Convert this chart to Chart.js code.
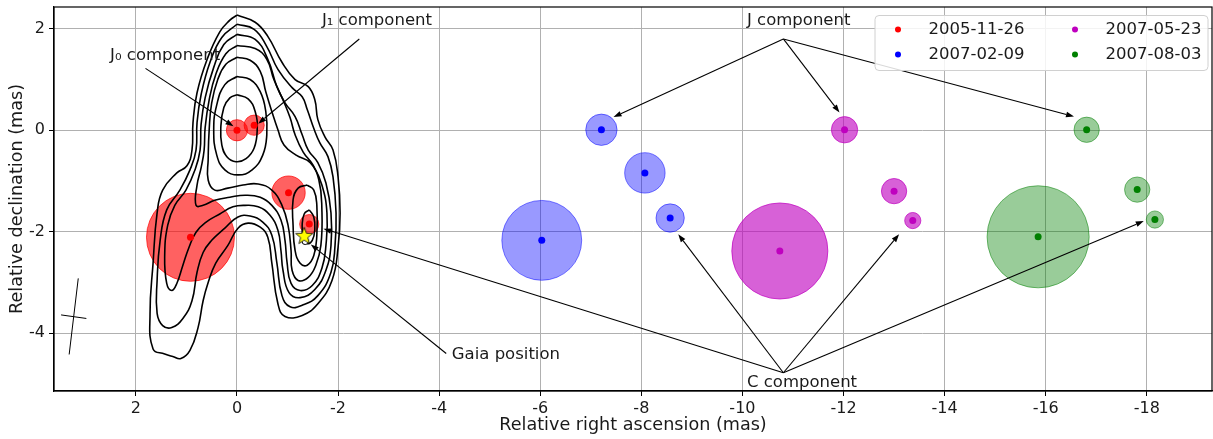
<!DOCTYPE html>
<html>
<head>
<meta charset="utf-8">
<script src="https://cdn.jsdelivr.net/npm/chart.js@4.4.0/dist/chart.umd.min.js"></script>
<style>
  html, body { margin: 0; padding: 0; background: #fff; }
  #wrap { width: 1213px; height: 439px; }
</style>
</head>
<body>
<div id="wrap"><canvas id="vlbiChart" width="1213" height="439"></canvas></div>
<script>
// epochs of the VLBI maps
const epochs = ["2005-11-26", "2007-02-09", "2007-05-23", "2007-08-03"];

// component positions (mas) and sizes (mas) per epoch
const ra_20051126 = [0.00, -0.34, -1.02, -1.43, 0.92];
const dec_20051126 = [0.00, 0.10, -1.23, -1.85, -2.11];
const size_20051126 = [0.21, 0.20, 0.33, 0.19, 0.87];

const ra_20070209 = [-7.21, -8.07, -8.57, -6.03];
const dec_20070209 = [0.01, -0.84, -1.73, -2.17];
const size_20070209 = [0.31, 0.40, 0.28, 0.79];

const ra_20070523 = [-12.02, -10.74, -13.00, -13.37];
const dec_20070523 = [0.01, -2.38, -1.20, -1.78];
const size_20070523 = [0.26, 0.95, 0.25, 0.16];

const ra_20070803 = [-16.81, -17.81, -18.16, -15.85];
const dec_20070803 = [0.01, -1.17, -1.76, -2.10];
const size_20070803 = [0.25, 0.25, 0.17, 1.01];

// Gaia position and its error marker
const gaiaRa = [-1.33];
const gaiaDec = [-2.08];
const gaiaErrRa = [-1.35];
const gaiaErrDec = [-2.19];

// tick labels
const xTicks = [2, 0, -2, -4, -6, -8, -10, -12, -14, -16, -18];
const yTicks = [-4, -2, 0, 2];

// contour levels of the 2005 map, [RA, Dec] in mas (outermost first)
const contour1 = [[0.00,2.27],[-0.36,2.13],[-0.61,1.85],[-0.89,1.34],[-1.15,1.00],[-1.41,0.86],[-1.54,0.60],[-1.60,0.21],[-1.74,-0.13],[-1.90,-0.39],[-2.00,-0.92],[-2.04,-1.63],[-2.00,-2.31],[-1.88,-2.96],[-1.60,-3.42],[-1.29,-3.65],[-0.95,-3.67],[-0.81,-3.42],[-0.69,-2.62],[-0.61,-2.11],[-0.46,-1.91],[-0.22,-1.83],[-0.02,-1.93],[0.18,-2.27],[0.42,-2.62],[0.57,-3.00],[0.67,-3.36],[0.77,-3.89],[0.93,-4.34],[1.11,-4.50],[1.27,-4.46],[1.43,-4.41],[1.66,-4.31],[1.72,-3.61],[1.66,-2.62],[1.58,-1.63],[1.47,-1.18],[1.19,-0.84],[0.99,-0.70],[0.89,-0.39],[0.87,0.15],[0.79,0.74],[0.59,1.40],[0.34,1.94],[0.14,2.17]];
const contour2 = [[0.00,2.09],[-0.34,1.99],[-0.59,1.65],[-0.81,1.20],[-1.09,0.84],[-1.29,0.66],[-1.39,0.41],[-1.53,0.01],[-1.64,-0.25],[-1.80,-0.52],[-1.90,-0.92],[-1.96,-1.63],[-1.94,-2.27],[-1.86,-2.80],[-1.60,-3.26],[-1.29,-3.45],[-1.05,-3.48],[-0.89,-3.26],[-0.79,-2.62],[-0.69,-2.07],[-0.51,-1.81],[-0.26,-1.69],[-0.02,-1.71],[0.24,-1.93],[0.50,-2.17],[0.67,-2.41],[0.79,-2.80],[0.89,-3.36],[1.07,-3.71],[1.29,-3.89],[1.47,-3.85],[1.58,-3.61],[1.58,-2.96],[1.52,-2.17],[1.39,-1.57],[1.13,-1.18],[0.93,-0.78],[0.81,-0.39],[0.79,0.15],[0.71,0.70],[0.53,1.35],[0.30,1.83]];
const contour3 = [[0.00,1.89],[-0.36,1.79],[-0.61,1.40],[-0.79,0.86],[-0.95,0.54],[-1.15,0.27],[-1.29,-0.09],[-1.41,-0.39],[-1.60,-0.64],[-1.76,-1.04],[-1.86,-1.63],[-1.86,-2.27],[-1.76,-2.76],[-1.54,-3.14],[-1.25,-3.30],[-1.03,-3.20],[-0.91,-2.76],[-0.87,-2.37],[-0.81,-1.97],[-0.65,-1.67],[-0.42,-1.51],[-0.16,-1.48],[0.08,-1.51],[0.34,-1.65],[0.61,-1.81],[0.81,-2.01],[0.95,-2.31],[1.07,-2.66],[1.19,-3.02],[1.29,-3.16],[1.39,-3.02],[1.43,-2.47],[1.37,-1.87],[1.23,-1.48],[1.01,-1.18],[0.83,-0.78],[0.73,-0.39],[0.71,0.11],[0.63,0.64],[0.46,1.24],[0.26,1.69]];
const contour4 = [[0.00,1.67],[-0.36,1.61],[-0.59,1.40],[-0.73,1.00],[-0.91,0.60],[-1.05,0.25],[-1.15,-0.09],[-1.31,-0.43],[-1.50,-0.68],[-1.68,-1.08],[-1.78,-1.63],[-1.76,-2.27],[-1.68,-2.72],[-1.49,-3.06],[-1.25,-3.16],[-1.07,-3.02],[-0.99,-2.60],[-0.95,-2.17],[-0.87,-1.77],[-0.69,-1.48],[-0.46,-1.32],[-0.16,-1.28],[0.14,-1.32],[0.44,-1.38],[0.67,-1.48],[0.81,-1.48],[0.79,-1.08],[0.71,-0.74],[0.65,-0.39],[0.63,0.05],[0.55,0.60],[0.42,1.10],[0.22,1.51]];
const contour5 = [[0.00,1.44],[-0.26,1.38],[-0.46,1.16],[-0.57,0.76],[-0.69,0.37],[-0.81,0.01],[-0.93,-0.29],[-1.17,-0.49],[-1.45,-0.64],[-1.62,-0.98],[-1.68,-1.57],[-1.66,-2.27],[-1.56,-2.66],[-1.41,-2.90],[-1.21,-2.96],[-1.09,-2.76],[-1.07,-2.37],[-1.01,-1.87],[-0.89,-1.48],[-0.69,-1.18],[-0.42,-1.06],[-0.12,-1.08],[0.18,-1.14],[0.44,-1.18],[0.57,-0.98],[0.57,-0.58],[0.55,0.01],[0.50,0.54],[0.38,1.00],[0.22,1.30]];
const contour6 = [[-1.39,-1.08],[-1.52,-1.18],[-1.58,-1.48],[-1.58,-2.07],[-1.52,-2.47],[-1.39,-2.66],[-1.25,-2.62],[-1.15,-2.37],[-1.11,-1.87],[-1.11,-1.37],[-1.21,-1.14]];
const contour7 = [[-1.43,-1.57],[-1.52,-1.71],[-1.54,-1.95],[-1.49,-2.17],[-1.39,-2.23],[-1.31,-2.11],[-1.29,-1.87],[-1.33,-1.65]];
const contour8 = [[0.00,1.06],[-0.26,1.00],[-0.46,0.76],[-0.57,0.37],[-0.59,-0.09],[-0.51,-0.49],[-0.30,-0.78],[-0.02,-0.88],[0.24,-0.78],[0.40,-0.49],[0.46,0.01],[0.40,0.50],[0.24,0.90]];
const contour9 = [[0.00,0.70],[-0.22,0.62],[-0.36,0.37],[-0.40,0.01],[-0.34,-0.35],[-0.18,-0.56],[0.02,-0.62],[0.20,-0.52],[0.30,-0.29],[0.32,0.05],[0.26,0.45],[0.14,0.64]];

// restoring beam drawn in the corner, [RA, Dec] ends
const beamMajor = [[3.14,-2.92],[3.32,-4.42]];
const beamMinor = [[3.48,-3.64],[2.98,-3.71]];

// annotations (data coordinates)
const noteText = ["J\u2080 component", "J\u2081 component", "J component", "Gaia position", "C component"];
const noteRa = [2.51, -1.68, -10.09, -4.25, -10.09];
const noteDec = [1.46, 2.15, 2.15, -4.43, -4.98];
const arrowFrom = [[1.81,1.22],[-2.42,1.80],[-10.81,1.80],[-10.81,1.80],[-10.81,1.80],[-4.14,-4.40],[-10.81,-4.78],[-10.81,-4.78],[-10.81,-4.78],[-10.81,-4.78]];
const arrowTo = [[0.07,0.08],[-0.42,0.13],[-7.45,0.26],[-11.92,0.35],[-16.56,0.27],[-1.46,-2.25],[-1.71,-1.94],[-8.73,-2.05],[-13.10,-2.05],[-17.94,-1.79]];

const FONT = "'DejaVu Sans', 'Liberation Sans', sans-serif";
const dotColors = ["#ff0000", "#0000ff", "#bf00bf", "#008000"];
const fillColors = ["rgba(255,0,0,0.62)", "rgba(0,0,255,0.4)", "rgba(191,0,191,0.62)", "rgba(0,128,0,0.4)"];
const edgeColors = ["rgba(255,0,0,0.7)", "rgba(0,0,255,0.5)", "rgba(191,0,191,0.7)", "rgba(0,128,0,0.5)"];

const raAll = [ra_20051126, ra_20070209, ra_20070523, ra_20070803];
const decAll = [dec_20051126, dec_20070209, dec_20070523, dec_20070803];
const sizeAll = [size_20051126, size_20070209, size_20070523, size_20070803];

// pixels per mas along the RA axis
function pxPerMas(chart) {
  const s = chart.scales && chart.scales.x;
  if (!s || !s.width) return 0;
  const v = Math.abs(s.getPixelForValue(1) - s.getPixelForValue(0));
  return isFinite(v) ? v : 0;
}

function toPoints(list, close) {
  const pts = list.map(p => ({x: p[0], y: p[1]}));
  if (close) pts.push({x: list[0][0], y: list[0][1]});
  return pts;
}

// yellow star for the Gaia marker
const starImg = document.createElement("canvas");
starImg.width = 20; starImg.height = 20;
(function () {
  const c = starImg.getContext("2d");
  c.beginPath();
  for (let i = 0; i < 10; i++) {
    const r = i % 2 === 0 ? 9 : 3.8;
    const a = -Math.PI / 2 + i * Math.PI / 5;
    const px = 10 + r * Math.cos(a), py = 10.5 + r * Math.sin(a);
    if (i === 0) c.moveTo(px, py); else c.lineTo(px, py);
  }
  c.closePath();
  c.fillStyle = "#ffff00";
  c.fill();
  c.lineWidth = 0.8;
  c.strokeStyle = "#000";
  c.stroke();
})();

const datasets = [];
epochs.forEach((label, i) => {
  datasets.push({
    type: "bubble",
    label: label,
    data: raAll[i].map((x, j) => ({x: x, y: decAll[i][j], r: 0})),
    sizes: sizeAll[i],
    backgroundColor: fillColors[i],
    borderColor: edgeColors[i],
    borderWidth: 1,
    order: 5
  });
  datasets.push({
    type: "scatter",
    label: label + " centre",
    data: raAll[i].map((x, j) => ({x: x, y: decAll[i][j]})),
    pointRadius: 3.5,
    pointBackgroundColor: dotColors[i],
    pointBorderWidth: 0,
    order: 1
  });
});

[contour1, contour2, contour3, contour4, contour5, contour6, contour7, contour8, contour9].forEach(c => {
  datasets.push({
    type: "scatter",
    data: toPoints(c, true),
    showLine: true,
    borderColor: "#000",
    borderWidth: 1.6,
    pointRadius: 0,
    tension: 0.45,
    order: 2
  });
});

[beamMajor, beamMinor].forEach(b => {
  datasets.push({
    type: "scatter",
    data: toPoints(b, false),
    showLine: true,
    borderColor: "#000",
    borderWidth: 1,
    pointRadius: 0,
    order: 2
  });
});

datasets.push({
  type: "scatter",
  data: gaiaErrRa.map((x, j) => ({x: x, y: gaiaErrDec[j]})),
  pointRadius: 3.2,
  pointBackgroundColor: "#fff",
  pointBorderColor: "#000",
  pointBorderWidth: 1,
  order: -1
});
datasets.push({
  type: "scatter",
  data: gaiaRa.map((x, j) => ({x: x, y: gaiaDec[j]})),
  pointStyle: starImg,
  order: -2
});

// bubble radius = component size (mas) converted with the RA scale
const sizer = {
  id: "sizer",
  beforeUpdate(chart) {
    const k = pxPerMas(chart);
    chart.data.datasets.forEach(ds => {
      if (ds.sizes) ds.data.forEach((p, j) => { p.r = ds.sizes[j] * k; });
    });
  }
};

const frame = {
  id: "frame",
  afterDatasetsDraw(chart) {
    const {ctx} = chart;
    const xs = chart.scales.x, ys = chart.scales.y;
    ctx.save();
    ctx.strokeStyle = "#000";
    ctx.fillStyle = "#000";
    ctx.lineWidth = 1.1;
    arrowFrom.forEach((f, k) => {
      const x0 = xs.getPixelForValue(f[0]), y0 = ys.getPixelForValue(f[1]);
      const x1 = xs.getPixelForValue(arrowTo[k][0]), y1 = ys.getPixelForValue(arrowTo[k][1]);
      const ang = Math.atan2(y1 - y0, x1 - x0);
      const hl = 8, hw = 2.8;
      ctx.beginPath();
      ctx.moveTo(x0, y0);
      ctx.lineTo(x1 - hl * Math.cos(ang), y1 - hl * Math.sin(ang));
      ctx.stroke();
      ctx.beginPath();
      ctx.moveTo(x1, y1);
      ctx.lineTo(x1 - hl * Math.cos(ang) + hw * Math.sin(ang), y1 - hl * Math.sin(ang) - hw * Math.cos(ang));
      ctx.lineTo(x1 - hl * Math.cos(ang) - hw * Math.sin(ang), y1 - hl * Math.sin(ang) + hw * Math.cos(ang));
      ctx.closePath();
      ctx.fill();
    });
    ctx.font = "16.5px " + FONT;
    ctx.textAlign = "left";
    ctx.textBaseline = "middle";
    ctx.fillStyle = "#1a1a1a";
    noteText.forEach((t, k) => {
      ctx.fillText(t, xs.getPixelForValue(noteRa[k]), ys.getPixelForValue(noteDec[k]));
    });
    ctx.restore();
  },
  afterDraw(chart) {
    const {ctx, chartArea: a} = chart;
    ctx.save();
    // legend box, two columns
    const bx = a.right - 337, by = a.top + 8.5, bw = 333, bh = 55;
    ctx.beginPath();
    ctx.roundRect(bx, by, bw, bh, 4);
    ctx.fillStyle = "rgba(255,255,255,0.85)";
    ctx.fill();
    ctx.strokeStyle = "#d0d0d0";
    ctx.lineWidth = 1;
    ctx.stroke();
    ctx.font = "16.5px " + FONT;
    ctx.textBaseline = "middle";
    ctx.textAlign = "left";
    epochs.forEach((label, i) => {
      const col = Math.floor(i / 2), row = i % 2;
      const cy = by + 14 + row * 25;
      const dx = bx + 23 + col * 177;
      ctx.beginPath();
      ctx.arc(dx, cy, 3, 0, Math.PI * 2);
      ctx.fillStyle = dotColors[i];
      ctx.fill();
      ctx.fillStyle = "#1a1a1a";
      ctx.fillText(label, dx + 30.5, cy);
    });
    ctx.strokeStyle = "#000";
    ctx.lineWidth = 1.2;
    ctx.strokeRect(a.left, a.top, a.right - a.left, a.bottom - a.top);
    ctx.restore();
  }
};

const tickFont = {family: FONT, size: 16};
const titleFont = {family: FONT, size: 17.6};

const vlbiChart = new Chart(document.getElementById("vlbiChart"), {
  type: "scatter",
  data: {datasets: datasets},
  options: {
    responsive: false,
    animation: false,
    devicePixelRatio: 1,
    layout: {padding: {top: 7, right: 1, left: 0, bottom: 0}, autoPadding: false},
    plugins: {legend: {display: false}, tooltip: {enabled: false}},
    scales: {
      x: {
        type: "linear",
        reverse: true,
        min: -19.29,
        max: 3.62,
        afterBuildTicks: s => { s.ticks = xTicks.map(v => ({value: v})); },
        afterFit: s => { s.height = 48; s.paddingLeft = 0; s.paddingRight = 0; },
        ticks: {font: tickFont, color: "#1a1a1a", padding: 3, maxRotation: 0, callback: v => String(v)},
        grid: {color: "#b0b0b0", lineWidth: 1, tickColor: "#000", tickLength: 5},
        border: {display: true, color: "#000", width: 1.2},
        title: {display: true, text: "Relative right ascension (mas)", font: titleFont, color: "#1a1a1a", padding: {top: 0, bottom: 3}}
      },
      y: {
        type: "linear",
        min: -5.14,
        max: 2.43,
        afterBuildTicks: s => { s.ticks = yTicks.map(v => ({value: v})); },
        afterFit: s => { s.width = 54; s.paddingTop = 0; s.paddingBottom = 0; },
        ticks: {font: tickFont, color: "#1a1a1a", padding: 4, callback: v => String(v)},
        grid: {color: "#b0b0b0", lineWidth: 1, tickColor: "#000", tickLength: 5},
        border: {display: true, color: "#000", width: 1.2},
        title: {display: true, text: "Relative declination (mas)", font: titleFont, color: "#1a1a1a", padding: {top: 7, bottom: 0}}
      }
    }
  },
  plugins: [sizer, frame]
});
// second pass so the bubble sizes use the laid-out scale
vlbiChart.update();
</script>
</body>
</html>
